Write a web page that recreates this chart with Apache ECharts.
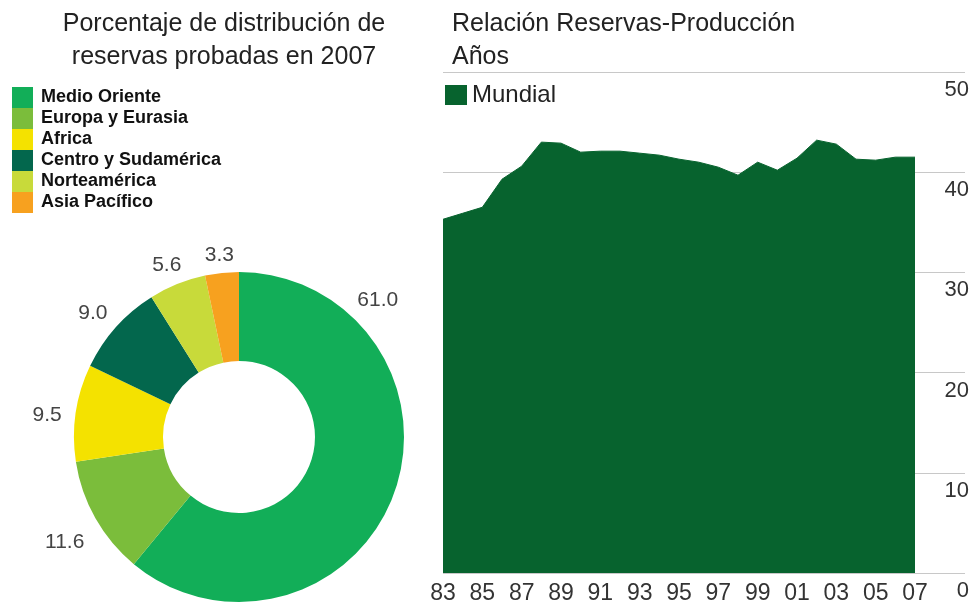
<!DOCTYPE html>
<html>
<head>
<meta charset="utf-8">
<script src="https://cdn.jsdelivr.net/npm/echarts@6/dist/echarts.min.js"></script>
<style>
  html, body { margin: 0; padding: 0; background: #ffffff; }
  #chart { width: 974px; height: 606px; }
</style>
</head>
<body>
<div id="chart"></div>
<script>
// Proved reserves share by region, 2007 (%)
const regionNames = ['Medio Oriente', 'Europa y Eurasia', 'Africa', 'Centro y Sudamérica', 'Norteamérica', 'Asia Pacífico'];
const regionShares = [61.0, 11.6, 9.5, 9.0, 5.6, 3.3];
const regionColors = ['#12ae58', '#7bbd3b', '#f4e200', '#03674d', '#c8da3a', '#f7a11f'];

// World reserves-to-production ratio (years), 1983-2007
const yearLabels = ['83', '84', '85', '86', '87', '88', '89', '90', '91', '92', '93', '94', '95',
                    '96', '97', '98', '99', '00', '01', '02', '03', '04', '05', '06', '07'];
const rpWorld = [35.3, 35.9, 36.5, 39.3, 40.6, 43.0, 42.9, 42.0, 42.1, 42.1, 41.9, 41.7, 41.3,
                 41.0, 40.5, 39.7, 41.0, 40.2, 41.4, 43.2, 42.8, 41.3, 41.2, 41.5, 41.5];

const FONT = '"Liberation Sans", Arial, Helvetica, sans-serif';
const PIE_CENTER = [239, 437];
const PIE_RADIUS = [76, 165];

// Place each donut label outside its slice, along the slice's mid angle.
const shareTotal = regionShares.reduce((a, b) => a + b, 0);
function sliceMidAngle(i) {
  let before = 0;
  for (let k = 0; k < i; k++) before += regionShares[k];
  return (before + regionShares[i] / 2) / shareTotal * 2 * Math.PI;
}
function pieLabelLayout(params) {
  const i = params.dataIndex;
  // the large first slice carries its label near its upper-right edge
  const a = i === 0 ? 44 * Math.PI / 180 : sliceMidAngle(i);
  const s = Math.sin(a), c = Math.cos(a);
  const hw = params.labelRect.width / 2, hh = params.labelRect.height / 2;
  const r = PIE_RADIUS[1] + 13 + hw * Math.abs(s) + hh * Math.abs(c);
  return {
    x: PIE_CENTER[0] + r * s,
    y: PIE_CENTER[1] - r * c + 7,
    align: 'center',
    verticalAlign: 'middle'
  };
}

const chart = echarts.init(document.getElementById('chart'), null, { renderer: 'canvas' });

chart.setOption({
  animation: false,
  backgroundColor: '#ffffff',
  textStyle: { fontFamily: FONT },
  title: [
    {
      text: 'Porcentaje de distribución de\nreservas probadas en 2007',
      left: 224, top: 8, padding: 0,
      textAlign: 'center',
      textStyle: { fontFamily: FONT, fontSize: 25, fontWeight: 'normal', color: '#222', lineHeight: 33 }
    },
    {
      text: 'Relación Reservas-Producción\nAños',
      left: 452, top: 8, padding: 0,
      textStyle: { fontFamily: FONT, fontSize: 25, fontWeight: 'normal', color: '#222', lineHeight: 33 }
    }
  ],
  legend: [
    {
      data: regionNames,
      orient: 'vertical',
      left: 12, top: 87, padding: 0,
      itemWidth: 21, itemHeight: 21, itemGap: 0,
      icon: 'rect',
      selectedMode: false,
      textStyle: { fontFamily: FONT, fontSize: 18, fontWeight: 'bold', color: '#111', lineHeight: 21, padding: [0, 0, 0, 3] }
    },
    {
      data: ['Mundial'],
      left: 445, top: 83, padding: 0,
      itemWidth: 22, itemHeight: 20,
      icon: 'rect',
      selectedMode: false,
      textStyle: { fontFamily: FONT, fontSize: 24, color: '#222' }
    }
  ],
  grid: [
    { left: 443, right: 59, top: 72, bottom: 33, containLabel: false },
    { left: 443, right: 9, top: 72, bottom: 33, containLabel: false }
  ],
  xAxis: [
    {
      type: 'category', gridIndex: 0, data: yearLabels, boundaryGap: false,
      axisLine: { show: false }, axisTick: { show: false },
      axisLabel: { interval: 1, margin: 9, fontFamily: FONT, fontSize: 23, color: '#333' },
      splitLine: { show: false }
    },
    { type: 'value', gridIndex: 1, min: 0, max: 1, show: false }
  ],
  yAxis: [
    { type: 'value', gridIndex: 0, min: 0, max: 50, interval: 10, show: false },
    {
      type: 'value', gridIndex: 1, position: 'right', min: 0, max: 50, interval: 10,
      axisLine: { show: false }, axisTick: { show: false },
      axisLabel: {
        inside: true, margin: -4, fontFamily: FONT, fontSize: 22, color: '#333',
        verticalAlign: 'top', padding: [7, 0, 0, 0]
      },
      splitLine: { show: true, lineStyle: { color: '#c8c8c8', width: 1 } }
    }
  ],
  series: [
    {
      name: 'Regiones',
      type: 'pie',
      center: PIE_CENTER,
      radius: PIE_RADIUS,
      startAngle: 90,
      clockwise: true,
      avoidLabelOverlap: false,
      silent: true,
      data: regionNames.map((n, i) => ({ name: n, value: regionShares[i], itemStyle: { color: regionColors[i] } })),
      label: {
        show: true, position: 'outside',
        formatter: p => p.value.toFixed(1),
        fontFamily: FONT, fontSize: 21, color: '#444'
      },
      labelLine: { show: false },
      labelLayout: pieLabelLayout,
      emphasis: { disabled: true }
    },
    {
      name: 'Mundial',
      type: 'line',
      xAxisIndex: 0, yAxisIndex: 0,
      data: rpWorld,
      symbol: 'none',
      silent: true,
      itemStyle: { color: '#07632e' },
      lineStyle: { width: 1, color: '#07632e' },
      areaStyle: { color: '#07632e', opacity: 1 },
      z: 3
    }
  ]
});
</script>
</body>
</html>
